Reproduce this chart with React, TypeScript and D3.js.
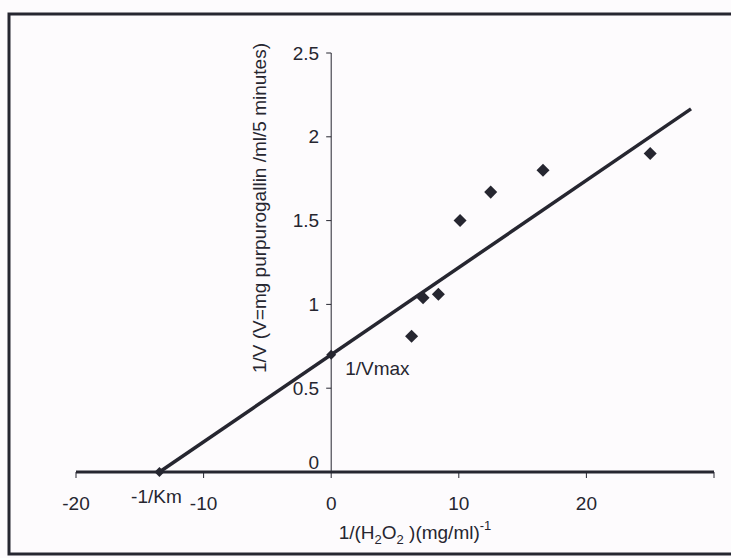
import { useEffect, useRef } from 'react';
import * as d3 from 'd3';

// measured points, 1/[S] vs 1/V
const invSubstrate = [6.3, 7.2, 8.4, 10.1, 12.5, 16.6, 25.0];
const invVelocity = [0.81, 1.04, 1.06, 1.5, 1.67, 1.8, 1.9];

// fitted line (Lineweaver-Burk)
const fitIntercept = 0.7;
const fitSlope = 0.052;
const fitEndX = 28.2;

const xTicks = [-20, -10, 0, 10, 20, 30];
const xTickLabels = ['-20', '-10', '0', '10', '20', ''];
const yTicks = [0, 0.5, 1, 1.5, 2, 2.5];
const yTickLabels = ['0', '0.5', '1', '1.5', '2', '2.5'];

export default function App() {
  const svgRef = useRef<SVGSVGElement>(null);

  useEffect(() => {
    const svg = d3.select(svgRef.current);
    svg.selectAll('*').remove();

    const ink = '#262630';
    const font = 'Liberation Sans, Arial, sans-serif';
    const fs = 19;

    svg.append('rect').attr('width', 731).attr('height', 558).attr('fill', '#fdfbfd');
    // frame (right edge runs off the scan)
    svg.append('rect')
      .attr('x', 9).attr('y', 14).attr('width', 760).attr('height', 540)
      .attr('fill', 'none').attr('stroke', ink).attr('stroke-width', 3);

    const x = d3.scaleLinear().domain([-20, 30]).range([76, 714]);
    const y = d3.scaleLinear().domain([0, 2.5]).range([472, 53]);

    // y axis
    const yg = svg.append('g').attr('transform', `translate(${x(0)},0)`);
    yg.append('line').attr('y1', y(2.5)).attr('y2', y(0)).attr('stroke', ink).attr('stroke-width', 1);
    yg.selectAll('.yt').data(yTicks).enter().append('line')
      .attr('x1', -5).attr('x2', 0)
      .attr('y1', d => y(d)).attr('y2', d => y(d))
      .attr('stroke', ink);
    yg.selectAll('.yl').data(yTicks).enter().append('text')
      .attr('x', -12)
      .attr('y', d => (d === 0 ? y(d) - 10 : y(d)))
      .attr('dy', '0.35em')
      .attr('text-anchor', 'end')
      .attr('font-family', font).attr('font-size', fs).attr('fill', ink)
      .text((d, i) => yTickLabels[i]);

    // x axis (thick)
    const xg = svg.append('g').attr('transform', `translate(0,${y(0)})`);
    xg.append('line').attr('x1', x(-20)).attr('x2', x(30)).attr('stroke', ink).attr('stroke-width', 3);
    xg.selectAll('.xt').data(xTicks).enter().append('line')
      .attr('x1', d => x(d)).attr('x2', d => x(d))
      .attr('y1', 0).attr('y2', 6)
      .attr('stroke', ink);
    xg.selectAll('.xl').data(xTicks).enter().append('text')
      .attr('x', d => x(d))
      .attr('y', 38)
      .attr('text-anchor', 'middle')
      .attr('font-family', font).attr('font-size', fs).attr('fill', ink)
      .text((d, i) => xTickLabels[i]);

    // fitted line from x-intercept to end
    const xInt = -fitIntercept / fitSlope;
    const line = d3.line<number>().x(d => x(d)).y(d => y(fitIntercept + fitSlope * d));
    svg.append('path')
      .attr('d', line([xInt, fitEndX]))
      .attr('fill', 'none').attr('stroke', ink).attr('stroke-width', 3.5);

    const diamond = d3.symbol().type(d3.symbolSquare).size(85);
    const pts = invSubstrate.map((v, i) => [v, invVelocity[i]]);
    svg.selectAll('.pt').data(pts).enter().append('path')
      .attr('d', diamond)
      .attr('transform', d => `translate(${x(d[0])},${y(d[1])}) rotate(45)`)
      .attr('fill', ink);

    // intercept markers
    const small = d3.symbol().type(d3.symbolSquare).size(50);
    svg.append('path').attr('d', small).attr('fill', ink)
      .attr('transform', `translate(${x(0)},${y(fitIntercept)}) rotate(45)`);
    svg.append('path').attr('d', small).attr('fill', ink)
      .attr('transform', `translate(${x(xInt)},${y(0)}) rotate(45)`);

    svg.append('text')
      .attr('x', x(0) + 14).attr('y', y(fitIntercept) + 20)
      .attr('font-family', font).attr('font-size', fs).attr('fill', ink)
      .text('1/Vmax');
    svg.append('text')
      .attr('x', x(xInt) - 3).attr('y', y(0) + 31)
      .attr('text-anchor', 'middle')
      .attr('font-family', font).attr('font-size', fs).attr('fill', ink)
      .text('-1/Km');

    // axis titles
    const xt = svg.append('text')
      .attr('x', 415).attr('y', 539)
      .attr('text-anchor', 'middle')
      .attr('font-family', font).attr('font-size', fs).attr('fill', ink);
    xt.append('tspan').text('1/(H');
    xt.append('tspan').attr('font-size', 13).attr('dy', 5).text('2');
    xt.append('tspan').attr('dy', -5).text('O');
    xt.append('tspan').attr('font-size', 13).attr('dy', 5).text('2');
    xt.append('tspan').attr('dy', -5).text(' )(mg/ml)');
    xt.append('tspan').attr('font-size', 13).attr('dy', -9).text('-1');

    svg.append('text')
      .attr('transform', `translate(266,208) rotate(-90)`)
      .attr('text-anchor', 'middle')
      .attr('font-family', font).attr('font-size', fs).attr('fill', ink)
      .text('1/V (V=mg purpurogallin /ml/5 minutes)');
  }, []);

  return (
    <svg
      ref={svgRef}
      width={731}
      height={558}
      style={{ position: 'absolute', left: 0, top: 0 }}
    />
  );
}
